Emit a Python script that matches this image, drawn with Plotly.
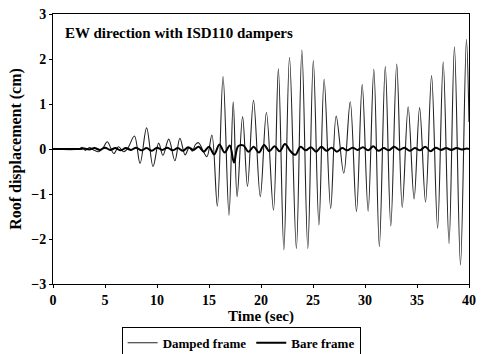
import plotly.graph_objects as go

# Damped frame (thin line): extrema
damped_t = [0, 2.5, 2.8, 3.1, 3.5, 3.9, 4.4, 4.8, 5.22, 5.85, 6.3, 6.8, 7.2, 7.83, 8.37,
            9.0, 9.62, 10.16, 10.57, 11.13, 11.72, 12.2, 12.7, 13.1, 13.4, 13.7, 14.0,
            14.35, 14.8, 15.28, 15.8, 16.35, 16.92, 17.33, 17.7, 18.23, 18.7, 19.28,
            19.93, 20.52, 21.2, 21.67, 22.2, 22.74, 23.4, 23.93, 24.5, 25.03, 25.57,
            26.07, 26.7, 27.23, 27.96, 28.58, 29.18, 29.73, 30.3, 30.85, 31.38, 31.95,
            32.48, 33.05, 33.58, 34.15, 34.72, 35.25, 35.82, 36.4, 36.98, 37.52, 38.08,
            38.6, 39.18, 39.75, 40.0]
damped_v = [0, 0, 0.04, -0.03, 0.03, -0.02, -0.06, 0.02, 0.16, -0.1, 0.05, -0.06, 0.02,
            0.29, -0.32, 0.47, -0.39, 0.13, -0.14, 0.22, -0.26, 0.24, -0.13, 0.03, -0.05,
            0.1, 0.14, 0.0, -0.17, 0.31, -1.27, 1.61, -1.47, 1.05, -1.06, 0.72, -0.83,
            1.08, -1.06, 0.81, -1.36, 1.78, -2.24, 2.04, -2.21, 2.2, -2.21, 1.96, -1.69,
            1.55, -1.32, 0.73, -0.54, 1.05, -1.39, 1.43, -1.38, 1.77, -2.17, 1.83, -1.71,
            1.89, -1.3, 0.94, -1.11, 0.92, -1.18, 1.63, -1.76, 1.93, -2.1, 2.27, -2.58,
            2.44, 0.6]

# Bare frame (thick line): small oscillations
bare_t = [0, 2.5, 3.0, 3.5, 4.0, 4.5, 5.0, 5.5, 6.0, 6.5, 7.0, 7.5, 8.0, 8.5, 9.0, 9.5,
          10.0, 10.5, 11.0, 11.5, 12.0, 12.5, 13.0, 13.5, 14.0, 14.5, 15.0, 15.5, 16.0,
          16.5, 17.0, 17.4, 17.8, 18.3, 18.8, 19.3, 19.8, 20.3, 20.8, 21.3, 21.8, 22.3,
          22.8, 23.3, 23.8, 24.3, 24.8, 25.3, 25.8, 26.3, 26.8, 27.3, 27.8, 28.3, 28.8,
          29.3, 29.8, 30.3, 30.8, 31.3, 31.8, 32.3, 32.8, 33.3, 33.8, 34.3, 34.8, 35.3,
          35.8, 36.3, 36.8, 37.3, 37.8, 38.3, 38.8, 39.3, 39.8, 40.0]
bare_v = [0, 0, 0.01, -0.01, 0.02, -0.02, 0.03, -0.02, 0.02, -0.03, 0.02, -0.02, 0.03,
          -0.03, 0.02, -0.04, 0.03, -0.02, 0.03, -0.03, 0.02, -0.04, 0.04, -0.02, 0.05,
          -0.06, 0.05, -0.12, 0.1, -0.08, 0.08, -0.3, 0.06, 0.08, -0.06, 0.05, -0.08,
          0.09, -0.05, 0.06, -0.05, 0.11, -0.04, -0.13, 0.05, -0.03, 0.04, -0.06, 0.05,
          -0.04, 0.03, -0.06, 0.02, -0.03, 0.03, -0.02, 0.04, -0.03, 0.06, -0.04, 0.02,
          -0.03, 0.05, -0.02, 0.03, -0.04, 0.02, -0.03, 0.05, -0.05, 0.03, -0.02, 0.02,
          -0.02, 0.02, -0.01, 0.01, 0.0]

title_text = "EW direction with ISD110 dampers"
x_ticks = [0, 5, 10, 15, 20, 25, 30, 35, 40]
y_ticks = [-3, -2, -1, 0, 1, 2, 3]

serif = "Liberation Serif"

fig = go.Figure()
fig.add_trace(go.Scatter(x=damped_t, y=damped_v, mode="lines", name="Damped frame",
                         line=dict(color="#222222", width=1.1, shape="spline", smoothing=1.0)))
fig.add_trace(go.Scatter(x=bare_t, y=bare_v, mode="lines", name="Bare frame",
                         line=dict(color="black", width=2, shape="spline", smoothing=1.0)))

fig.update_layout(
    width=482, height=354,
    margin=dict(l=53, r=6, t=14, b=70),
    paper_bgcolor="white", plot_bgcolor="white",
    font=dict(family=serif, size=14, color="black", weight="bold"),
    showlegend=True,
    legend=dict(orientation="h", x=0.165, xanchor="left",
                yref="container", y=0.077, yanchor="top",
                bordercolor="black", borderwidth=1, bgcolor="white",
                font=dict(family=serif, size=13, color="black", weight="bold"),
                itemwidth=30, tracegroupgap=0),
    annotations=[dict(text=title_text, xref="paper", yref="paper", x=0.023, y=0.93,
                      xanchor="left", yanchor="middle", showarrow=False,
                      font=dict(family=serif, size=15, color="black", weight="bold"))],
)
fig.update_xaxes(range=[0, 40], tickvals=x_ticks, showgrid=False, zeroline=False,
                 showline=True, linecolor="black", linewidth=1, mirror=True,
                 ticks="outside", ticklen=3, tickcolor="black",
                 ticklabeloverflow="allow",
                 title=dict(text="Time (sec)", standoff=0,
                            font=dict(family=serif, size=15, weight="bold")),
                 tickfont=dict(family=serif, size=14, weight="bold"))
fig.update_yaxes(range=[-3, 3], tickvals=y_ticks, showgrid=False, zeroline=False,
                 showline=True, linecolor="black", linewidth=1, mirror=True,
                 ticks="outside", ticklen=3, tickcolor="black",
                 title=dict(text="Roof displacement (cm)", standoff=5,
                            font=dict(family=serif, size=16, weight="bold")),
                 tickfont=dict(family=serif, size=14, weight="bold"))

fig.write_html("out.html")
